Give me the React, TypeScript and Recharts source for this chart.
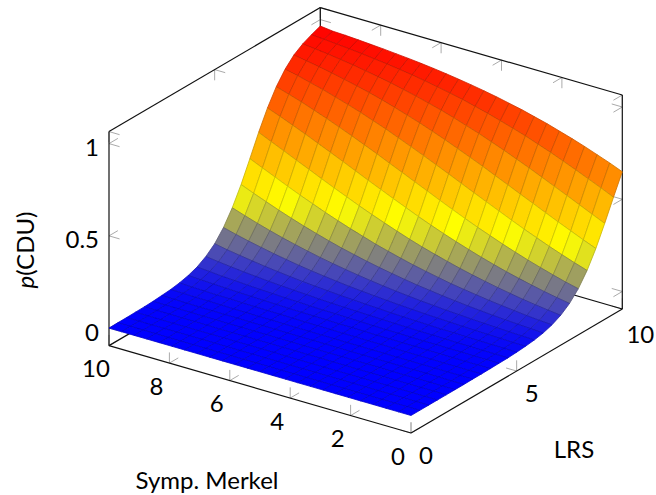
import { ScatterChart, Scatter, XAxis, YAxis } from "recharts";

const merkelValues = Array.from({ length: 25 }, (_, j) => (j * 10) / 24);
const lrsValues = Array.from({ length: 25 }, (_, i) => (i * 10) / 24);

// p(CDU): one row per LRS sample, one column per Merkel sample
const pCdu: number[][] = [
  [0, 0, 0, 0, 0, 0, 0, 0, 0, 0, 0, 0, 0, 0, 0, 0, 0, 0, 0, 0, 0, 0, 0, 0, 0],
  [0, 0, 0, 0, 0, 0, 0, 0, 0, 0, 0, 0, 0, 0, 0, 0, 0, 0, 0, 0, 0, 0.001, 0.001, 0.001, 0.001],
  [0, 0, 0, 0, 0, 0, 0, 0, 0, 0, 0, 0, 0, 0, 0, 0, 0, 0.001, 0.001, 0.001, 0.001, 0.001, 0.001, 0.001, 0.001],
  [0, 0, 0, 0, 0, 0, 0, 0, 0, 0, 0, 0, 0, 0.001, 0.001, 0.001, 0.001, 0.001, 0.001, 0.001, 0.001, 0.001, 0.001, 0.002, 0.002],
  [0, 0, 0, 0, 0, 0, 0, 0, 0, 0.001, 0.001, 0.001, 0.001, 0.001, 0.001, 0.001, 0.001, 0.001, 0.001, 0.002, 0.002, 0.002, 0.003, 0.003, 0.003],
  [0, 0, 0, 0, 0, 0, 0.001, 0.001, 0.001, 0.001, 0.001, 0.001, 0.001, 0.001, 0.001, 0.002, 0.002, 0.002, 0.002, 0.003, 0.003, 0.004, 0.004, 0.004, 0.005],
  [0, 0, 0.001, 0.001, 0.001, 0.001, 0.001, 0.001, 0.001, 0.001, 0.001, 0.002, 0.002, 0.002, 0.002, 0.003, 0.003, 0.003, 0.004, 0.004, 0.005, 0.005, 0.006, 0.007, 0.009],
  [0.001, 0.001, 0.001, 0.001, 0.001, 0.001, 0.001, 0.002, 0.002, 0.002, 0.002, 0.003, 0.003, 0.003, 0.004, 0.004, 0.005, 0.005, 0.006, 0.007, 0.008, 0.009, 0.01, 0.012, 0.013],
  [0.001, 0.001, 0.001, 0.001, 0.002, 0.002, 0.002, 0.003, 0.003, 0.003, 0.004, 0.004, 0.005, 0.005, 0.006, 0.007, 0.008, 0.009, 0.01, 0.011, 0.013, 0.014, 0.016, 0.018, 0.021],
  [0.002, 0.002, 0.002, 0.002, 0.003, 0.003, 0.004, 0.004, 0.005, 0.005, 0.006, 0.007, 0.007, 0.009, 0.01, 0.011, 0.012, 0.014, 0.016, 0.018, 0.02, 0.023, 0.026, 0.029, 0.033],
  [0.003, 0.003, 0.003, 0.004, 0.004, 0.005, 0.005, 0.006, 0.007, 0.008, 0.009, 0.011, 0.012, 0.014, 0.015, 0.017, 0.02, 0.022, 0.025, 0.028, 0.032, 0.036, 0.04, 0.046, 0.051],
  [0.004, 0.005, 0.005, 0.006, 0.007, 0.008, 0.009, 0.01, 0.012, 0.013, 0.015, 0.017, 0.019, 0.021, 0.024, 0.027, 0.031, 0.035, 0.039, 0.044, 0.05, 0.056, 0.063, 0.071, 0.08],
  [0.007, 0.008, 0.009, 0.01, 0.011, 0.013, 0.014, 0.016, 0.018, 0.021, 0.023, 0.027, 0.03, 0.034, 0.038, 0.043, 0.048, 0.054, 0.061, 0.069, 0.077, 0.087, 0.097, 0.108, 0.121],
  [0.011, 0.012, 0.014, 0.016, 0.018, 0.02, 0.023, 0.026, 0.029, 0.033, 0.037, 0.042, 0.047, 0.053, 0.059, 0.067, 0.075, 0.084, 0.094, 0.106, 0.118, 0.132, 0.147, 0.163, 0.181],
  [0.017, 0.02, 0.022, 0.025, 0.028, 0.032, 0.036, 0.04, 0.046, 0.051, 0.058, 0.065, 0.073, 0.082, 0.092, 0.103, 0.115, 0.128, 0.143, 0.159, 0.176, 0.195, 0.215, 0.237, 0.26],
  [0.027, 0.031, 0.035, 0.039, 0.044, 0.05, 0.056, 0.063, 0.071, 0.08, 0.089, 0.1, 0.112, 0.125, 0.139, 0.155, 0.171, 0.19, 0.21, 0.231, 0.254, 0.278, 0.304, 0.33, 0.358],
  [0.043, 0.048, 0.054, 0.061, 0.069, 0.077, 0.087, 0.097, 0.108, 0.121, 0.135, 0.15, 0.167, 0.185, 0.204, 0.226, 0.248, 0.272, 0.297, 0.324, 0.351, 0.38, 0.41, 0.44, 0.47],
  [0.067, 0.075, 0.084, 0.094, 0.106, 0.118, 0.132, 0.147, 0.163, 0.181, 0.2, 0.22, 0.242, 0.266, 0.291, 0.317, 0.344, 0.373, 0.402, 0.432, 0.463, 0.493, 0.524, 0.554, 0.585],
  [0.103, 0.115, 0.128, 0.143, 0.159, 0.176, 0.195, 0.215, 0.237, 0.26, 0.284, 0.31, 0.337, 0.366, 0.395, 0.425, 0.455, 0.486, 0.517, 0.547, 0.577, 0.607, 0.635, 0.663, 0.689],
  [0.155, 0.171, 0.19, 0.21, 0.231, 0.254, 0.278, 0.304, 0.33, 0.358, 0.387, 0.417, 0.448, 0.478, 0.509, 0.539, 0.57, 0.599, 0.628, 0.656, 0.683, 0.708, 0.733, 0.755, 0.776],
  [0.226, 0.248, 0.272, 0.297, 0.324, 0.351, 0.38, 0.41, 0.44, 0.47, 0.501, 0.532, 0.562, 0.592, 0.621, 0.649, 0.677, 0.702, 0.727, 0.75, 0.771, 0.792, 0.81, 0.828, 0.843],
  [0.317, 0.344, 0.373, 0.402, 0.432, 0.463, 0.493, 0.524, 0.554, 0.585, 0.614, 0.642, 0.67, 0.696, 0.721, 0.744, 0.766, 0.787, 0.806, 0.823, 0.839, 0.854, 0.868, 0.88, 0.892],
  [0.425, 0.455, 0.486, 0.517, 0.547, 0.577, 0.607, 0.635, 0.663, 0.689, 0.715, 0.738, 0.761, 0.782, 0.801, 0.819, 0.835, 0.851, 0.864, 0.877, 0.889, 0.899, 0.909, 0.917, 0.924],
  [0.539, 0.57, 0.599, 0.628, 0.656, 0.683, 0.708, 0.733, 0.755, 0.776, 0.796, 0.814, 0.832, 0.847, 0.861, 0.874, 0.886, 0.896, 0.906, 0.914, 0.922, 0.929, 0.935, 0.941, 0.946],
  [0.649, 0.677, 0.702, 0.727, 0.75, 0.771, 0.792, 0.81, 0.828, 0.843, 0.858, 0.871, 0.883, 0.894, 0.904, 0.913, 0.921, 0.928, 0.934, 0.94, 0.945, 0.95, 0.954, 0.957, 0.965],
];

const merkelTicks = [0, 2, 4, 6, 8, 10];
const lrsTicks = [0, 5, 10];
const pTicks = [0, 0.5, 1];
const pTickLabels = ["0", "0.5", "1"];

const MERKEL_MAX = 10;
const LRS_MAX = 10;
const P_MIN = -0.095;
const P_MAX = 1.065;

// blue, yellow, orange, red
const colormap = [
  [0, 0, 255],
  [255, 255, 0],
  [255, 127, 0],
  [255, 0, 0],
];

const WIDTH = 656;
const HEIGHT = 495;
const FONT = "Lato, sans-serif";

// oblique view of the 3d box, chart axes run in page pixels
function project(m: number, l: number, p: number) {
  return {
    x: 411 - 30.2 * m + 21.13 * l,
    y: 415.5 - 8.74 * m - 12.4 * l - 184.5 * p,
  };
}

function colorOf(p: number, dark = 1) {
  const t = Math.min(0.9999, Math.max(0, p / 0.965)) * (colormap.length - 1);
  const k = Math.floor(t);
  const f = t - k;
  const c = colormap[k].map((v, n) => Math.round((v + (colormap[k + 1][n] - v) * f) * dark));
  return `rgb(${c[0]},${c[1]},${c[2]})`;
}

// back cells first so the front ones paint over them
const cells: any[] = [];
for (let i = lrsValues.length - 2; i >= 0; i--) {
  for (let j = merkelValues.length - 2; j >= 0; j--) {
    const idx = [
      [i, j],
      [i + 1, j],
      [i + 1, j + 1],
      [i, j + 1],
    ];
    const corners = idx.map(([a, b]) => project(merkelValues[b], lrsValues[a], pCdu[a][b]));
    const mean = idx.reduce((s, [a, b]) => s + pCdu[a][b], 0) / 4;
    cells.push({
      x: corners.reduce((s, c) => s + c.x, 0) / 4,
      y: corners.reduce((s, c) => s + c.y, 0) / 4,
      corners,
      mean,
    });
  }
}

function seg(a: [number, number, number], b: [number, number, number]) {
  const p0 = project(...a);
  const p1 = project(...b);
  return { x: p0.x, y: p0.y, x2: p1.x, y2: p1.y };
}

const boxEdges = [
  seg([MERKEL_MAX, LRS_MAX, P_MIN], [MERKEL_MAX, LRS_MAX, P_MAX]),
  seg([MERKEL_MAX, 0, P_MIN], [MERKEL_MAX, LRS_MAX, P_MIN]),
  seg([MERKEL_MAX, LRS_MAX, P_MIN], [0, LRS_MAX, P_MIN]),
  seg([MERKEL_MAX, 0, P_MIN], [0, 0, P_MIN]),
  seg([0, 0, P_MIN], [0, LRS_MAX, P_MIN]),
  seg([MERKEL_MAX, 0, P_MIN], [MERKEL_MAX, 0, P_MAX]),
  seg([0, LRS_MAX, P_MIN], [0, LRS_MAX, P_MAX]),
  seg([MERKEL_MAX, 0, P_MAX], [MERKEL_MAX, LRS_MAX, P_MAX]),
  seg([MERKEL_MAX, LRS_MAX, P_MAX], [0, LRS_MAX, P_MAX]),
];

const TM = 0.35;
const TL = 0.42;
const TP = 0.058;
const tickMarks: any[] = [];
merkelTicks.forEach((m) => {
  tickMarks.push(seg([m, 0, P_MIN], [m, 0, P_MIN + TP]), seg([m, 0, P_MIN], [m, TL, P_MIN]));
  tickMarks.push(seg([m, LRS_MAX, P_MAX], [m, LRS_MAX, P_MAX - TP]), seg([m, LRS_MAX, P_MAX], [m, LRS_MAX - TL, P_MAX]));
});
lrsTicks.forEach((l) => {
  tickMarks.push(seg([0, l, P_MIN], [0, l, P_MIN + TP]), seg([0, l, P_MIN], [TM, l, P_MIN]));
  tickMarks.push(seg([MERKEL_MAX, l, P_MAX], [MERKEL_MAX, l, P_MAX - TP]), seg([MERKEL_MAX, l, P_MAX], [MERKEL_MAX - TM, l, P_MAX]));
});
pTicks.forEach((p) => {
  tickMarks.push(seg([MERKEL_MAX, 0, p], [MERKEL_MAX, TL, p]), seg([MERKEL_MAX, 0, p], [MERKEL_MAX - TM, 0, p]));
  tickMarks.push(seg([0, LRS_MAX, p], [0, LRS_MAX - TL, p]), seg([0, LRS_MAX, p], [TM, LRS_MAX, p]));
  tickMarks.push(seg([MERKEL_MAX, LRS_MAX, p], [MERKEL_MAX, LRS_MAX - TL, p]), seg([MERKEL_MAX, LRS_MAX, p], [MERKEL_MAX - TM, LRS_MAX, p]));
});

const tickLabels: any[] = [];
merkelTicks.forEach((m) => {
  const o = project(m, 0, P_MIN);
  tickLabels.push({ x: o.x - 13, y: o.y + 22, text: String(m), anchor: "middle" });
});
lrsTicks.forEach((l) => {
  const o = project(0, l, P_MIN);
  tickLabels.push({ x: o.x + (l === 10 ? 18 : 15), y: o.y + (l === 10 ? 24 : 21), text: String(l), anchor: "middle" });
});
pTicks.forEach((p, n) => {
  const o = project(MERKEL_MAX, 0, p);
  tickLabels.push({ x: o.x - 10, y: o.y + 3, text: pTickLabels[n], anchor: "end" });
});

const axisTitles = [
  { x: 207, y: 479, text: "Symp. Merkel", anchor: "middle" },
  { x: 574, y: 448, text: "LRS", anchor: "middle" },
];
const yTitle = [{ x: 24, y: 250 }];

const CellShape = (props: any) => {
  const { cx, cy, payload } = props;
  const pts = payload.corners.map((c: any) => `${cx + c.x - payload.x},${cy + c.y - payload.y}`).join(" ");
  return (
    <polygon
      points={pts}
      fill={colorOf(payload.mean)}
      stroke={colorOf(payload.mean, 0.8)}
      strokeWidth={0.8}
      strokeLinejoin="round"
    />
  );
};

const segShape = (stroke: string, width: number) => (props: any) => {
  const { cx, cy, payload } = props;
  return (
    <line
      x1={cx}
      y1={cy}
      x2={cx + payload.x2 - payload.x}
      y2={cy + payload.y2 - payload.y}
      stroke={stroke}
      strokeWidth={width}
    />
  );
};

const TextShape = (props: any) => {
  const { cx, cy, payload } = props;
  return (
    <text x={cx} y={cy} textAnchor={payload.anchor} dominantBaseline="central" fontFamily={FONT} fontSize={24} fill="#000">
      {payload.text}
    </text>
  );
};

const YTitleShape = (props: any) => {
  const { cx, cy } = props;
  return (
    <text
      x={cx}
      y={cy}
      textAnchor="middle"
      dominantBaseline="central"
      fontFamily={FONT}
      fontSize={24}
      fill="#000"
      transform={`rotate(-90 ${cx} ${cy})`}
    >
      <tspan fontStyle="italic">p</tspan>(CDU)
    </text>
  );
};

export default function App() {
  return (
    <div style={{ position: "absolute", left: 0, top: 0, width: WIDTH, height: HEIGHT }}>
      <ScatterChart width={WIDTH} height={HEIGHT} margin={{ top: 0, right: 0, bottom: 0, left: 0 }}>
        <XAxis type="number" dataKey="x" domain={[0, WIDTH]} hide />
        <YAxis type="number" dataKey="y" domain={[0, HEIGHT]} reversed hide />
        <Scatter data={tickMarks} shape={segShape("#aaaaaa", 1)} isAnimationActive={false} />
        <Scatter data={boxEdges} shape={segShape("#111111", 1.2)} isAnimationActive={false} />
        <Scatter data={cells} shape={CellShape} isAnimationActive={false} />
        <Scatter data={tickLabels} shape={TextShape} isAnimationActive={false} />
        <Scatter data={axisTitles} shape={TextShape} isAnimationActive={false} />
        <Scatter data={yTitle} shape={YTitleShape} isAnimationActive={false} />
      </ScatterChart>
    </div>
  );
}
